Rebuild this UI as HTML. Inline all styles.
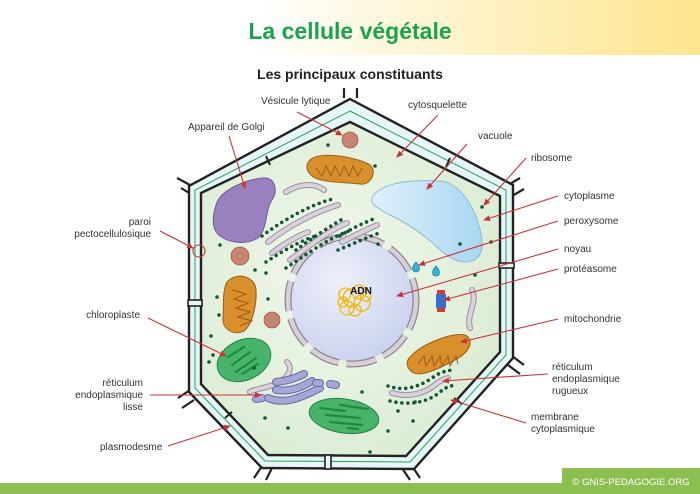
<!DOCTYPE html>
<html><head><meta charset="utf-8"><style>
html,body{margin:0;padding:0;width:700px;height:494px;overflow:hidden;background:#fff}
svg{display:block}
text{font-family:"Liberation Sans",sans-serif}
.l{font-size:10px;fill:#333}
.a{stroke:#c8333a;stroke-width:1.1;fill:none;marker-end:url(#ar)}
.er{fill:none;stroke:#9a8f9c;stroke-width:6;stroke-linecap:round}
.er2{fill:none;stroke:#d9d2dc;stroke-width:4;stroke-linecap:round}
.dt{fill:none;stroke:#14573a;stroke-width:3.6;stroke-linecap:round;stroke-dasharray:0 6}
.sm{fill:none;stroke:#6b6aa6;stroke-width:8;stroke-linecap:round}
.sm2{fill:none;stroke:#a8a6d6;stroke-width:6;stroke-linecap:round}
.th{stroke:#1f8a3c;stroke-width:2.2;stroke-linecap:round}
</style></head><body>
<svg width="700" height="494" viewBox="0 0 700 494" xmlns="http://www.w3.org/2000/svg">
<defs>
<linearGradient id="hd" x1="0" x2="1" y1="0" y2="0">
<stop offset="0" stop-color="#fff"/><stop offset="0.37" stop-color="#fff"/><stop offset="1" stop-color="#fde58c"/></linearGradient>
<radialGradient id="cy" cx="0.45" cy="0.45" r="0.6"><stop offset="0" stop-color="#f2f8ee"/><stop offset="1" stop-color="#dcecd4"/></radialGradient>
<radialGradient id="nu" cx="0.4" cy="0.35" r="0.7"><stop offset="0" stop-color="#eef0fa"/><stop offset="1" stop-color="#c9d1ee"/></radialGradient>
<linearGradient id="va" x1="0" x2="1"><stop offset="0" stop-color="#dff0fb"/><stop offset="1" stop-color="#a9d6f2"/></linearGradient>
<marker id="ar" markerWidth="7" markerHeight="6" refX="6" refY="3" orient="auto" markerUnits="userSpaceOnUse"><path d="M0,0 L7,3 L0,6 z" fill="#c8333a"/></marker>
</defs>
<rect x="0" y="0" width="700" height="55" fill="url(#hd)"/>
<text x="350" y="39" text-anchor="middle" font-size="23" font-weight="bold" fill="#1aa350">La cellule végétale</text>
<text x="350" y="79" text-anchor="middle" font-size="14" font-weight="bold" fill="#222">Les principaux constituants</text>

<g stroke="#222" stroke-width="2.2" fill="none">
<path d="M344,98 L344,88 M357,98 L357,88"/>
<path d="M508,185 L520,178 M512,196 L524,189"/>
<path d="M190,185 L177,178 M194,196 L181,188"/>
<path d="M512,356 L524,365 M508,365 L520,374"/>
<path d="M190,390 L178,398 M194,400 L182,408"/>
<path d="M262,466 L254,478 M272,468 L266,480"/>
<path d="M412,466 L420,478 M402,468 L410,480"/>
</g>
<polygon points="350,99 513,185 513,358 414,469 262,468 189,392 189,186" fill="#e6f5f7" stroke="#222" stroke-width="2.4"/>
<polygon points="350,111 506,190 506,355 410,462 265,461 195,388 195,190" fill="none" stroke="#2aa05a" stroke-width="1"/>
<polygon points="350,122 500,196 500,352 406,456 268,455 201,384 201,193" fill="url(#cy)" stroke="#222" stroke-width="2.4"/>
<g stroke="#222" stroke-width="1.6" fill="#e6f5f7">
<rect x="188" y="300" width="14" height="6"/>
<rect x="325" y="455" width="6" height="14"/>
<rect x="499" y="263" width="15" height="5"/>
</g>
<line x1="266" y1="156" x2="270" y2="165" stroke="#222" stroke-width="2"/>
<line x1="450" y1="158" x2="446" y2="167" stroke="#222" stroke-width="2"/>
<line x1="225" y1="418" x2="232" y2="412" stroke="#222" stroke-width="2"/>
<line x1="454" y1="398" x2="462" y2="404" stroke="#222" stroke-width="2"/>

<path d="M373,196 C385,180 420,180 440,181 C460,182 478,210 482,240 C484,255 476,262 465,262 C455,262 445,255 435,245 C420,232 405,222 390,215 C378,208 368,204 373,196 Z" fill="url(#va)" stroke="#8fb9d0" stroke-width="1"/>
<path d="M216,205 C220,190 245,180 262,178 C276,176 278,192 272,200 C265,210 268,228 258,238 C245,246 228,242 220,236 C212,230 212,218 216,205 Z" fill="#9b80c0" stroke="#6f5a98" stroke-width="1"/>
<circle cx="350" cy="140" r="8" fill="#c78571" stroke="#9a5c4a" stroke-width="0.8"/>
<circle cx="240" cy="256" r="9" fill="#c78571" stroke="#9a5c4a" stroke-width="0.8"/>
<circle cx="272" cy="320" r="8" fill="#c78571" stroke="#9a5c4a" stroke-width="0.8"/>
<g fill="#d98f2b" stroke="#9a5e16" stroke-width="1">
<path d="M310,160 C320,150 360,158 370,165 C378,172 370,186 360,184 C345,182 320,183 312,176 C305,170 306,164 310,160 Z"/>
<path d="M227,282 C235,272 255,275 256,290 C257,305 252,325 244,331 C235,336 222,330 223,318 C224,305 222,292 227,282 Z"/>
<path d="M412,355 C425,342 455,332 465,335 C475,340 470,352 455,360 C440,368 420,378 412,372 C405,366 406,360 412,355 Z"/>
</g>
<g stroke="#9a5e16" stroke-width="1" fill="none">
<path d="M316,168 l6,8 l4,-10 l5,10 l4,-10 l5,10 l4,-10 l5,10 l4,-10 l5,10 l4,-8"/>
<path d="M232,290 l14,4 l-12,5 l14,4 l-12,5 l14,4 l-12,5 l14,4 l-12,5"/>
<path d="M418,364 l6,-8 l2,10 l6,-10 l2,10 l6,-10 l2,10 l6,-10 l2,10 l6,-10 l2,8"/>
</g>
<circle cx="352" cy="300" r="61" fill="url(#nu)"/>
<circle cx="352" cy="300" r="64" fill="none" stroke="#8f8490" stroke-width="7" stroke-dasharray="30 8"/>
<circle cx="352" cy="300" r="64" fill="none" stroke="#d6d0d8" stroke-width="4.5" stroke-dasharray="30 8"/>
<g fill="none" stroke="#f2b705" stroke-width="1.3">
<circle cx="352" cy="298" r="9"/><circle cx="362" cy="303" r="8"/><circle cx="347" cy="308" r="7"/><circle cx="359" cy="292" r="7"/><circle cx="345" cy="294" r="6"/><circle cx="366" cy="296" r="5"/><circle cx="355" cy="310" r="6"/><circle cx="343" cy="302" r="5"/>
</g>
<text x="361" y="294" text-anchor="middle" font-size="10" font-weight="bold" fill="#111">ADN</text>
<path class="er" d="M268,242 C290,225 315,212 338,205"/><path class="er2" d="M268,242 C290,225 315,212 338,205"/>
<path class="er" d="M272,253 C285,243 298,236 308,232"/><path class="er2" d="M272,253 C285,243 298,236 308,232"/>
<path class="er" d="M290,260 C310,245 330,230 347,223"/><path class="er2" d="M290,260 C310,245 330,230 347,223"/>
<path class="er" d="M342,242 C355,235 368,229 377,225"/><path class="er2" d="M342,242 C355,235 368,229 377,225"/>
<path class="dt" d="M262,236 C286,218 312,204 336,198"/>
<path class="dt" d="M266,262 C290,246 308,238 316,236"/>
<path class="dt" d="M286,268 C310,252 332,236 352,230"/>
<path class="dt" d="M338,250 C355,243 370,236 382,232"/>
<path class="dt" d="M296,250 C312,238 332,225 346,217"/>
<path class="dt" d="M340,236 C352,228 366,222 376,218"/>
<path class="er" d="M286,192 C300,183 315,183 324,190"/><path class="er2" d="M286,192 C300,183 315,183 324,190"/>
<path class="er" d="M472,290 C478,302 466,314 470,328"/><path class="er2" d="M472,290 C478,302 466,314 470,328"/>
<path class="er" d="M287,362 C295,370 285,382 270,386 C260,389 252,390 250,392"/><path class="er2" d="M287,362 C295,370 285,382 270,386 C260,389 252,390 250,392"/>
<path class="er" d="M392,393 C410,398 425,393 435,385 C440,380 445,379 448,378"/><path class="er2" d="M392,393 C410,398 425,393 435,385 C440,380 445,379 448,378"/>
<path class="dt" d="M388,386 C405,392 420,386 432,378 C440,372 446,371 452,370"/>
<path class="dt" d="M390,401 C410,406 428,402 440,392 C446,387 450,386 455,385"/>
<path class="sm" d="M256,399 L262,398"/><path class="sm2" d="M256,399 L262,398"/>
<path class="sm" d="M268,398 C285,405 300,398 320,388"/><path class="sm2" d="M268,398 C285,405 300,398 320,388"/>
<path class="sm" d="M276,390 C290,392 300,388 312,381"/><path class="sm2" d="M276,390 C290,392 300,388 312,381"/>
<path class="sm" d="M276,382 C288,381 296,378 304,374"/><path class="sm2" d="M276,382 C288,381 296,378 304,374"/>
<path class="sm" d="M316,383 L320,383"/><path class="sm2" d="M316,383 L320,383"/>
<path class="sm" d="M330,384 L336,385"/><path class="sm2" d="M330,384 L336,385"/>
<ellipse cx="244" cy="360" rx="28" ry="20" transform="rotate(-25 244 360)" fill="#48b36a" stroke="#24824a" stroke-width="1"/>
<ellipse cx="344" cy="416" rx="35" ry="17" transform="rotate(8 344 416)" fill="#48b36a" stroke="#24824a" stroke-width="1"/>
<g class="th">
<line x1="232" y1="365" x2="250" y2="352"/><line x1="236" y1="372" x2="256" y2="358"/><line x1="228" y1="357" x2="244" y2="347"/><line x1="242" y1="374" x2="258" y2="364"/>
<line x1="320" y1="408" x2="345" y2="411"/><line x1="326" y1="415" x2="360" y2="418"/><line x1="330" y1="422" x2="362" y2="425"/><line x1="340" y1="405" x2="368" y2="409"/><line x1="348" y1="428" x2="358" y2="429"/>
</g>
<path d="M416,262 c-5,5 -4,10 0,10 c4,0 5,-5 0,-10z" fill="#3bb0d8" stroke="#1d7fa0" stroke-width="0.8"/>
<path d="M436,266 c-5,5 -4,10 0,10 c4,0 5,-5 0,-10z" fill="#3bb0d8" stroke="#1d7fa0" stroke-width="0.8"/>
<rect x="436" y="294" width="10" height="14" fill="#3a6fc8"/>
<rect x="437" y="290" width="8" height="4" fill="#d63a30"/><rect x="437" y="308" width="8" height="4" fill="#d63a30"/>
<g fill="#14573a">
<circle cx="328" cy="145" r="1.8"/><circle cx="375" cy="166" r="1.8"/><circle cx="482" cy="207" r="1.8"/><circle cx="491" cy="242" r="1.8"/><circle cx="475" cy="275" r="1.8"/><circle cx="220" cy="245" r="1.8"/><circle cx="217" cy="297" r="1.8"/><circle cx="219" cy="315" r="1.8"/><circle cx="211" cy="336" r="1.8"/><circle cx="213" cy="355" r="1.8"/><circle cx="209" cy="362" r="1.8"/><circle cx="378" cy="244" r="1.8"/><circle cx="266" cy="273" r="1.8"/><circle cx="255" cy="270" r="1.8"/><circle cx="268" cy="299" r="1.8"/><circle cx="362" cy="392" r="1.8"/><circle cx="388" cy="431" r="1.8"/><circle cx="413" cy="421" r="1.8"/><circle cx="398" cy="411" r="1.8"/><circle cx="415" cy="402" r="1.8"/><circle cx="265" cy="418" r="1.8"/><circle cx="288" cy="428" r="1.8"/><circle cx="370" cy="452" r="1.8"/><circle cx="254" cy="368" r="1.8"/><circle cx="460" cy="244" r="1.8"/>
</g>

<g class="l">
<text x="261" y="104">Vésicule lytique</text>
<text x="408" y="108">cytosquelette</text>
<text x="478" y="139">vacuole</text>
<text x="188" y="130">Appareil de Golgi</text>
<text x="531" y="161">ribosome</text>
<text x="564" y="199">cytoplasme</text>
<text x="564" y="224">peroxysome</text>
<text x="564" y="252">noyau</text>
<text x="564" y="272">protéasome</text>
<text x="564" y="322">mitochondrie</text>
<text x="552" y="370">réticulum</text><text x="552" y="382">endoplasmique</text><text x="552" y="394">rugueux</text>
<text x="531" y="420">membrane</text><text x="531" y="432">cytoplasmique</text>
<text x="151" y="225" text-anchor="end">paroi</text><text x="151" y="237" text-anchor="end">pectocellulosique</text>
<text x="140" y="318" text-anchor="end">chloroplaste</text>
<text x="143" y="386" text-anchor="end">réticulum</text><text x="143" y="398" text-anchor="end">endoplasmique</text><text x="143" y="410" text-anchor="end">lisse</text>
<text x="100" y="450">plasmodesme</text>
</g>
<circle cx="199" cy="251" r="6" fill="none" stroke="#c8333a" stroke-width="1.1"/>
<g>
<path class="a" d="M297,112 L342,135"/>
<path class="a" d="M438,115 L397,157"/>
<path class="a" d="M467,144 L427,189"/>
<path class="a" d="M229,136 L245,188"/>
<path class="a" d="M526,158 L484,205"/>
<path class="a" d="M558,196 L484,220"/>
<path class="a" d="M558,221 L419,265"/>
<path class="a" d="M558,249 L397,296"/>
<path class="a" d="M558,269 L444,300"/>
<path class="a" d="M558,319 L461,342"/>
<path class="a" d="M548,374 L443,381"/>
<path class="a" d="M526,423 L451,400"/>
<path class="a" d="M160,231 L193,248"/>
<path class="a" d="M148,318 L226,356"/>
<path class="a" d="M150,395 L261,395"/>
<path class="a" d="M168,446 L230,426"/>
</g>
<rect x="0" y="483" width="700" height="11" fill="#8cbf4f"/>
<rect x="562" y="468" width="138" height="26" fill="#8cbf4f"/>
<text x="631" y="485" text-anchor="middle" font-size="9.5" fill="#fff">© GNIS-PEDAGOGIE.ORG</text>
</svg>
</body></html>
